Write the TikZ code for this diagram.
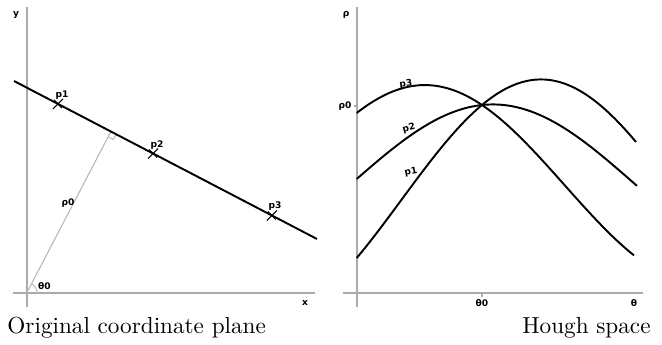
\documentclass[tikz,border=0pt]{standalone}
\usepackage{fontspec}
\newfontfamily\lblfont{DejaVu Sans}
\usetikzlibrary{calc}
\definecolor{axisgray}{HTML}{AAAAAA}
\definecolor{rhogray}{HTML}{BBBBBB}
\tikzset{
  axisline/.style={draw=axisgray, line width=0.9pt},
  mainline/.style={draw=black, line width=0.85pt},
  curve/.style={draw=black, line width=0.85pt, samples=80, smooth},
  lbl/.style={font=\lblfont\bfseries\fontsize{4}{4}\selectfont, inner sep=0pt},
  caption/.style={font=\fontsize{10.2}{12}\selectfont, inner sep=0pt},
  crossmark/.style={draw=black, line width=0.5pt}
}
\begin{document}
\begin{tikzpicture}[x=0.44pt, y=-0.44pt]
\useasboundingbox (0,0) rectangle (662,345);
% ---------- left panel ----------
\coordinate (O) at (26.7,293);
\draw[axisline] (26.7,307) -- (26.7,7);
\draw[axisline] (13,293) -- (315,293);
\node[lbl] (ylab) at (16,15) {y};
\node[lbl] (xlab) at (305,303) {x};
\coordinate (L1) at (14,81);
\coordinate (L2) at (317,239);
\coordinate (F) at ($(L1)!(O)!(L2)$);
\draw[draw=rhogray, line width=0.5pt] (O) -- (F);
\coordinate (RA) at ($(F)!2.6pt!(L2)$);
\coordinate (RC) at ($(F)!2.6pt!(O)$);
\draw[draw=rhogray, line width=0.45pt] (RA) -- ($(RA)+(RC)-(F)$) -- (RC);
\draw[mainline] (L1) -- (L2);
\foreach \t/\n in {0.145/1, 0.459/2, 0.851/3}{
  \coordinate (P\n) at ($(L1)!\t!(L2)$);
  \draw[crossmark] ($(P\n)+(-5,5)$) -- ($(P\n)+(5,-5)$);
  \draw[crossmark] ($(P\n)+(-4,-4)$) -- ($(P\n)+(4,4)$);
}
\node[lbl] (p1l) at (62,95) {p1};
\node[lbl] (p2l) at (157,145) {p2};
\node[lbl] (p3l) at (275,206) {p3};
\node[lbl] (rho0l) at (68,203) {ρ0};
\draw[draw=rhogray, line width=0.45pt] ($(O)+(4.6pt,0)$) arc[start angle=0, end angle=62, radius=4.6pt];
\node[lbl] (th0l) at (44.5,286) {θ0};
% ---------- right panel ----------
\draw[axisline] (356.7,307) -- (356.7,7);
\draw[axisline] (343,293) -- (643,293);
\coordinate (T0) at (482,293);
\draw[draw=axisgray, line width=0.5pt] (T0) -- ++(0,4);
\coordinate (R0) at (356.7,106);
\draw[draw=axisgray, line width=0.5pt] (R0) -- ++(-3,0);
\node[lbl] (rholab) at (346,15) {ρ};
\node[lbl, anchor=east] (rho0lab) at (352,106) {ρ0};
\node[lbl] (th0lab) at (482,303) {θ0};
\node[lbl] (thlab) at (634,303) {θ};
% Hough curves (sinusoids through the common point (482,105))
\draw[curve, domain=0:279.3] plot ({356.7+\x}, {200 + 58*cos(0.64447*\x) - 105.7*sin(0.64447*\x)});
\draw[curve, domain=0:280.3] plot ({356.7+\x}, {182 - 3*cos(0.64447*\x) - 77.5*sin(0.64447*\x)});
\draw[curve, domain=0:277.3] plot ({356.7+\x}, {185 - 72*cos(0.64447*\x) - 69.3*sin(0.64447*\x)});
\node[lbl, rotate=8] (hp3) at (406,84) {p3};
\node[lbl, rotate=15] (hp2) at (409,128) {p2};
\node[lbl, rotate=12] (hp1) at (411,172) {p1};
% ---------- captions ----------
\node[caption, anchor=base west] (cap1) at (7,334) {Original coordinate plane};
\node[caption, anchor=base east] (cap2) at (651,334) {Hough space};
\end{tikzpicture}
\end{document}
